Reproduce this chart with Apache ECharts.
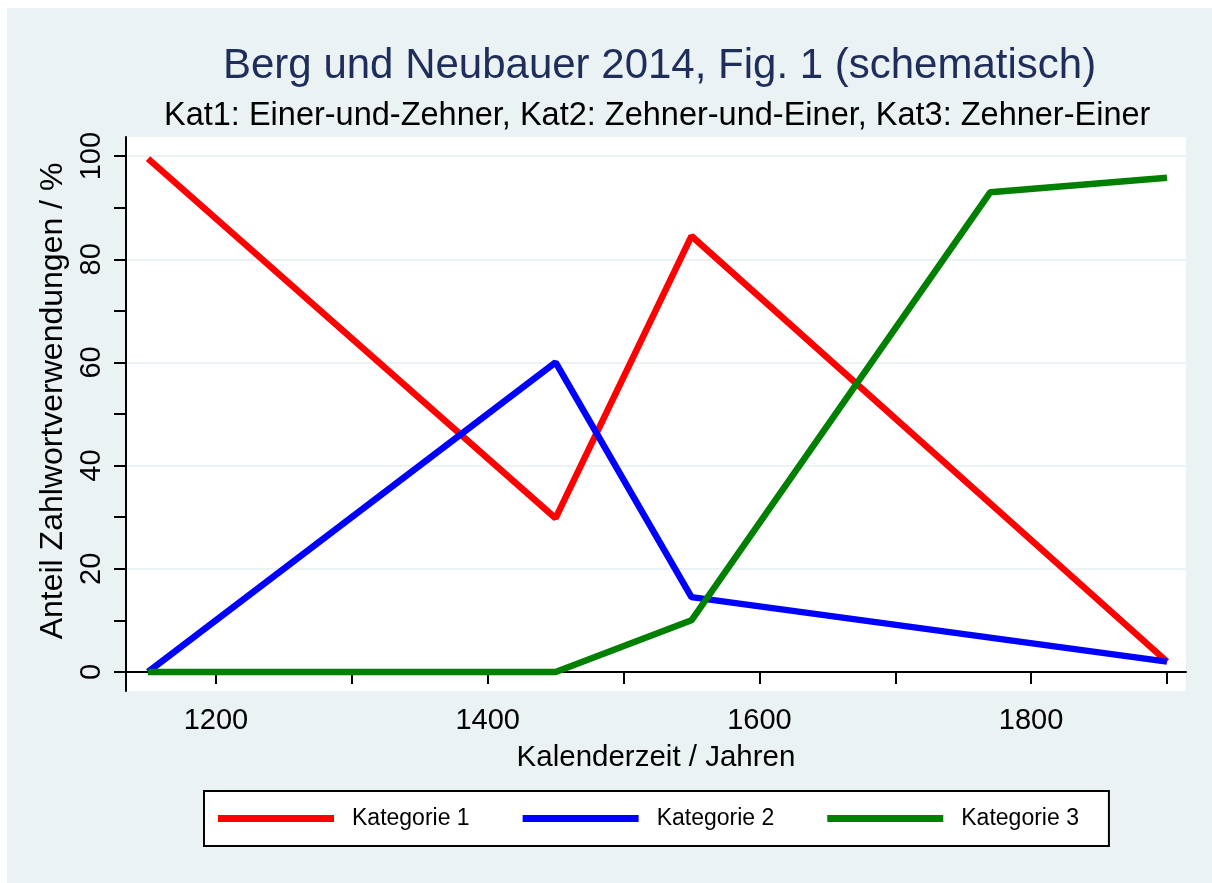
<!DOCTYPE html>
<html>
<head>
<meta charset="utf-8">
<title>Berg und Neubauer 2014</title>
<script src="https://cdn.jsdelivr.net/npm/echarts@6/dist/echarts.min.js"></script>
<style>
  html, body { margin: 0; padding: 0; background: #ffffff; }
  #chart { width: 1212px; height: 883px; }
</style>
</head>
<body>
<div id="chart"></div>
<script>
  // values
  var kat1 = [[1150, 99.5], [1450, 29.8], [1550, 84.5], [1900, 2]];
  var kat2 = [[1150, 0], [1450, 60], [1550, 14.5], [1900, 2]];
  var kat3 = [[1150, 0], [1450, 0], [1550, 10], [1770, 93], [1900, 95.8]];
  var seriesNames = ['Kategorie 1', 'Kategorie 2', 'Kategorie 3'];
  var xTicks = [1200, 1300, 1400, 1500, 1600, 1700, 1800, 1900];
  var xLabels = [1200, 1400, 1600, 1800];
  var yTicks = [0, 10, 20, 30, 40, 50, 60, 70, 80, 90, 100];
  var yLabels = [0, 20, 40, 60, 80, 100];

  var font = 'Liberation Sans';
  var chart = echarts.init(document.getElementById('chart'));

  chart.setOption({
    backgroundColor: '#ffffff',
    animation: false,
    graphic: [{
      type: 'rect',
      z: -100,
      silent: true,
      shape: { x: 7, y: 8, width: 1205, height: 875 },
      style: { fill: '#EAF2F3' }
    }],
    title: [
      {
        text: 'Berg und Neubauer 2014, Fig. 1 (schematisch)',
        left: 218,
        top: 40,
        textStyle: { fontFamily: font, fontSize: 42, fontWeight: 'normal', color: '#1e2d5a' }
      },
      {
        text: 'Kat1: Einer-und-Zehner, Kat2: Zehner-und-Einer, Kat3: Zehner-Einer',
        left: 159,
        top: 95,
        textStyle: { fontFamily: font, fontSize: 32.5, fontWeight: 'normal', color: '#000' }
      }
    ],
    legend: {
      data: seriesNames,
      left: 204,
      top: 791,
      orient: 'horizontal',
      icon: 'rect',
      itemWidth: 116,
      itemHeight: 7,
      itemGap: 53,
      padding: [16, 30, 16, 14],
      backgroundColor: '#ffffff',
      borderColor: '#000000',
      borderWidth: 2,
      borderRadius: 0,
      textStyle: { fontFamily: font, fontSize: 23, color: '#000', padding: [0, 0, 0, 13] }
    },
    grid: {
      left: 126,
      right: 26,
      top: 137,
      bottom: 192,
      show: true,
      backgroundColor: '#ffffff',
      borderWidth: 0,
      containLabel: false,
      outerBoundsMode: 'none'
    },
    xAxis: {
      type: 'value',
      min: 1133.8,
      max: 1914,
      name: 'Kalenderzeit / Jahren',
      nameLocation: 'middle',
      nameGap: 52,
      nameTextStyle: { fontFamily: font, fontSize: 29.5, color: '#000' },
      axisLine: { show: true, lineStyle: { color: '#000', width: 2 } },
      axisTick: { show: true, length: 12, lineStyle: { color: '#000', width: 2 }, customValues: xTicks },
      axisLabel: {
        fontFamily: font, fontSize: 29, color: '#000', margin: 15, customValues: xLabels,
        formatter: function (v) { return String(v); }
      },
      splitLine: { show: false }
    },
    yAxis: [
      {
        type: 'value',
        min: -3.7,
        max: 103.7,
        name: 'Anteil Zahlwortverwendungen / %',
        nameLocation: 'middle',
        nameRotate: 90,
        nameGap: 53,
        nameTextStyle: { fontFamily: font, fontSize: 32, color: '#000', padding: [0, 0, 0, 26] },
        axisLine: { show: true, lineStyle: { color: '#000', width: 2 } },
        axisTick: { show: true, length: 12, lineStyle: { color: '#000', width: 2 }, customValues: yTicks },
        axisLabel: { fontFamily: font, fontSize: 29, color: '#000', margin: 20, rotate: 90, customValues: yLabels },
        splitLine: { show: false }
      },
      {
        // only for the grid lines at the labelled values
        type: 'value',
        min: -3.7,
        max: 103.7,
        position: 'left',
        axisLine: { show: false },
        axisTick: { show: false, customValues: yLabels },
        axisLabel: { show: false, customValues: yLabels },
        splitLine: { show: true, lineStyle: { color: '#EAF2F3', width: 2 } }
      }
    ],
    series: [
      {
        name: seriesNames[0], type: 'line', data: kat1, showSymbol: false,
        itemStyle: { color: '#ff0000' }, lineStyle: { color: '#ff0000', width: 6.5 }
      },
      {
        name: seriesNames[1], type: 'line', data: kat2, showSymbol: false,
        itemStyle: { color: '#0000ff' }, lineStyle: { color: '#0000ff', width: 6.5 }
      },
      {
        name: seriesNames[2], type: 'line', data: kat3, showSymbol: false,
        itemStyle: { color: '#008000' }, lineStyle: { color: '#008000', width: 6.5 }
      }
    ]
  });
</script>
</body>
</html>
